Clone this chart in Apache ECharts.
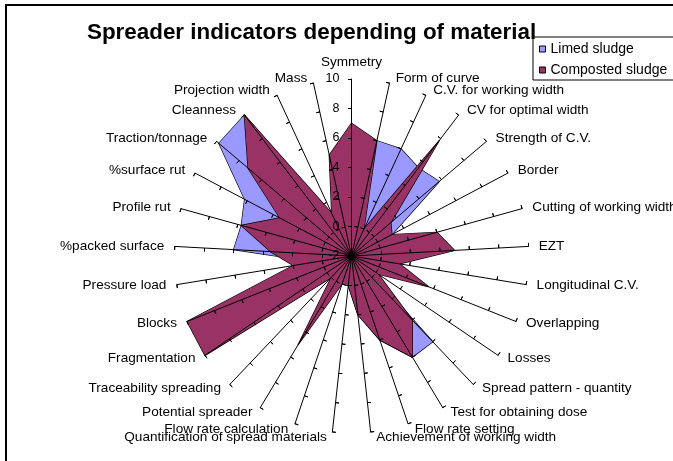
<!DOCTYPE html>
<html>
<head>
<meta charset="utf-8">
<script src="https://cdn.jsdelivr.net/npm/echarts@6/dist/echarts.min.js"></script>
<style>
  html, body { margin: 0; padding: 0; background: #fff; }
  #chart { width: 673px; height: 461px; }
</style>
</head>
<body>
<div id="chart"></div>
<script>
// axes listed clockwise from the top
const indicators = [
  'Symmetry', 'Form of curve', 'C.V. for working width', 'CV for optimal width',
  'Strength of C.V.', 'Border', 'Cutting of working width', 'EZT',
  'Longitudinal C.V.', 'Overlapping', 'Losses', 'Spread pattern - quantity',
  'Test for obtaining dose', 'Flow rate setting', 'Achievement of working width',
  'Quantification of spread materials', 'Flow rate calculation', 'Potential spreader',
  'Traceability spreading', 'Fragmentation', 'Blocks', 'Pressure load',
  '%packed surface', 'Profile rut', '%surface rut', 'Traction/tonnage',
  'Cleanness', 'Projection width', 'Mass'
];
const limed = [6, 6, 6, 5.5, 5.8, 1.1, 3, 4, 1, 2, -1, 6, 6, 4, 2, 0, 0, 2, 0, 8, 8, 0.5, 6, 5.75, 6.2, 9.8, 10, 1, 3];
const composted = [7, 6, 0, 7.8, 1.5, 1.1, 4, 5, 1.3, 3.6, 0.2, 4, 6, 4, 2, 0, 0, 5, 0, 10, 10, 2, 3.5, 5.75, 3.5, 7.2, 10, 1.2, 5];
const axisMin = -2;
const axisMax = 10;
const tickStep = 2;

const font = '"Liberation Sans", Arial, sans-serif';

// echarts lays indicators out counter-clockwise, so walk the list backwards
const order = indicators.map((_, i) => (indicators.length - i) % indicators.length);

function buildIndicators(withLabel) {
  return order.map((k, j) => {
    const ind = { name: indicators[k], min: axisMin, max: axisMax };
    if (withLabel && j === 0) ind.axisLabel = { show: true };
    return ind;
  });
}

const radarCommon = {
  center: [351.5, 256],
  radius: 177,
  startAngle: 90,
  splitNumber: (axisMax - axisMin) / tickStep,
  shape: 'polygon',
  splitLine: { show: false },
  splitArea: { show: false },
  z: 5
};

const chart = echarts.init(document.getElementById('chart'));
chart.setOption({
  backgroundColor: '#fff',
  animation: false,
  title: {
    text: 'Spreader indicators depending of material',
    left: 82,
    top: 17,
    textStyle: { fontSize: 22.4, fontWeight: 'bold', color: '#000', fontFamily: font }
  },
  legend: {
    orient: 'vertical',
    left: 533,
    top: 37,
    padding: [5, 7, 3, 6],
    itemGap: 7,
    itemWidth: 6,
    itemHeight: 6,
    itemTextGap: 3,
    icon: 'rect',
    borderColor: '#000',
    borderWidth: 1,
    backgroundColor: '#fff',
    itemStyle: { borderColor: '#000', borderWidth: 1 },
    textStyle: { fontSize: 14, color: '#000', fontFamily: font },
    data: ['Limed sludge', 'Composted sludge']
  },
  graphic: [{
    type: 'rect',
    silent: true,
    z: -10,
    shape: { x: 6, y: 5, width: 720, height: 520 },
    style: { fill: null, stroke: '#000', lineWidth: 2 }
  }],
  radar: [
    Object.assign({}, radarCommon, {
      indicator: buildIndicators(true),
      axisName: { color: '#000', fontSize: 13.6, fontFamily: font, padding: [4, 5, 4, 5] },
      nameGap: 5.5,
      axisLine: { lineStyle: { color: '#000', width: 1 } },
      axisTick: { show: true, length: 3.5, lineStyle: { color: '#000', width: 1 } },
      axisLabel: { show: false, color: '#000', fontSize: 12.5, fontFamily: font, margin: 12 }
    }),
    Object.assign({}, radarCommon, {
      indicator: buildIndicators(false),
      axisName: { show: false },
      axisLine: { show: false },
      axisTick: { show: true, inside: true, length: 3.5, lineStyle: { color: '#000', width: 1 } },
      axisLabel: { show: false }
    })
  ],
  series: [{
    type: 'radar',
    radarIndex: 0,
    symbol: 'none',
    z: 2,
    data: [
      {
        name: 'Limed sludge',
        value: order.map(k => limed[k]),
        lineStyle: { color: '#000', width: 1.3 },
        areaStyle: { color: '#9999FF', opacity: 1 },
        itemStyle: { color: '#9999FF' }
      },
      {
        name: 'Composted sludge',
        value: order.map(k => composted[k]),
        lineStyle: { color: '#000', width: 1.3 },
        areaStyle: { color: '#993366', opacity: 1 },
        itemStyle: { color: '#993366' }
      }
    ]
  }]
});
</script>
</body>
</html>
